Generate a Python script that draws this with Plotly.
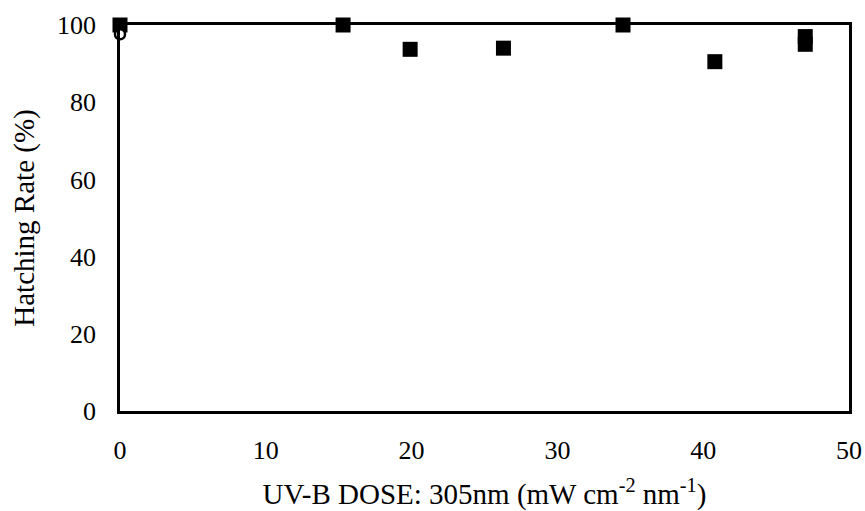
import plotly.graph_objects as go

# UV-B dose (mW cm-2 nm-1) and hatching rate (%)
dose_treated = [0, 15.3, 19.9, 26.3, 34.5, 40.8, 47.0, 47.0]
hatch_treated = [100, 100, 93.7, 94.0, 100, 90.5, 97.0, 95.0]

dose_control = [0]
hatch_control = [97.6]

x_ticks = [0, 10, 20, 30, 40, 50]
y_ticks = [0, 20, 40, 60, 80, 100]

font_family = "Liberation Serif, Times New Roman, serif"

fig = go.Figure()
fig.add_trace(go.Scatter(
    x=dose_treated, y=hatch_treated, mode="markers",
    marker=dict(symbol="square", size=15, color="black"),
    showlegend=False, cliponaxis=False,
))
# control drawn last, open circle with white fill
fig.add_trace(go.Scatter(
    x=dose_control, y=hatch_control, mode="markers",
    marker=dict(symbol="circle", size=10, color="white", line=dict(width=2.5, color="black")),
    showlegend=False, cliponaxis=False,
))

fig.update_layout(
    width=865, height=511,
    margin=dict(l=120, r=16, t=25, b=100),
    paper_bgcolor="white", plot_bgcolor="white",
    font=dict(family=font_family, size=26, color="black"),
    xaxis=dict(
        range=[0, 50], tickvals=x_ticks, ticks="", showgrid=False, zeroline=False,
        showline=True, linecolor="black", linewidth=2.5, mirror=True,
        ticklabelstandoff=14, automargin=False,
        title=dict(text="UV-B DOSE: 305nm (mW cm<sup>-2</sup> nm<sup>-1</sup>)", standoff=20,
                   font=dict(size=29)),
    ),
    yaxis=dict(
        range=[0, 100], tickvals=y_ticks, ticks="", showgrid=False, zeroline=False,
        showline=True, linecolor="black", linewidth=2.5, mirror=True,
        ticklabelstandoff=16, automargin=False,
        title=dict(text="Hatching Rate (%)", standoff=14, font=dict(size=29)),
    ),
)

fig.write_html("out.html")
